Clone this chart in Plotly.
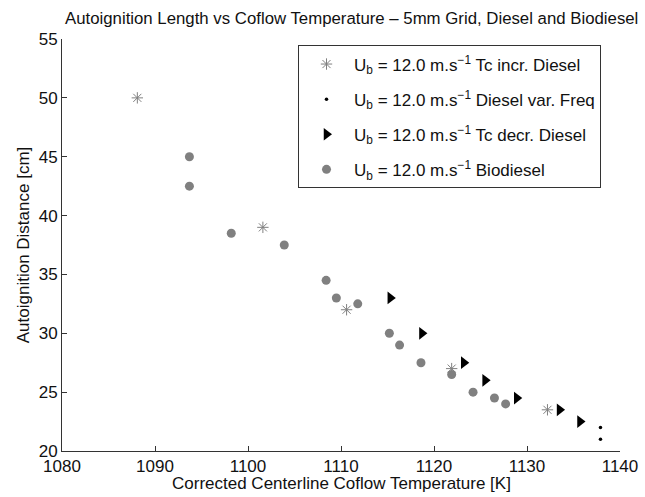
import plotly.graph_objects as go

# Tc increasing, Diesel (asterisks)
incr_T = [1088.1, 1101.6, 1110.6, 1121.9, 1132.2]
incr_L = [50.0, 39.0, 32.0, 27.0, 23.5]

# Diesel variable frequency (dots)
freq_T = [1137.9, 1137.9]
freq_L = [22.0, 21.0]

# Tc decreasing, Diesel (triangles)
decr_T = [1115.3, 1118.7, 1123.2, 1125.5, 1128.9, 1133.5, 1135.7]
decr_L = [33.0, 30.0, 27.5, 26.0, 24.5, 23.5, 22.5]

# Biodiesel (circles)
bio_T = [1093.7, 1093.7, 1098.2, 1103.9, 1108.4, 1109.5, 1111.8, 1115.2,
         1116.3, 1118.6, 1121.9, 1124.2, 1126.5, 1127.7]
bio_L = [45.0, 42.5, 38.5, 37.5, 34.5, 33.0, 32.5, 30.0,
         29.0, 27.5, 26.5, 25.0, 24.5, 24.0]

x_ticks = [1080, 1090, 1100, 1110, 1120, 1130, 1140]
y_ticks = [20, 25, 30, 35, 40, 45, 50, 55]

title_text = "Autoignition Length vs Coflow Temperature \u2013 5mm Grid, Diesel and Biodiesel"
x_title = "Corrected Centerline Coflow Temperature [K]"
y_title = "Autoignition Distance [cm]"
lab = "U<sub>b</sub> = 12.0 m.s<sup>\u22121</sup> "
GRAY = "#808080"
AX = "#333333"
FONT = "Liberation Sans, Arial, Helvetica, sans-serif"

fig = go.Figure()
fig.add_trace(go.Scatter(
    x=incr_T, y=incr_L, mode="markers", name=lab + "Tc incr. Diesel", legendgroup="a",
    marker=dict(symbol="asterisk-open", size=9.5, color=GRAY,
                line=dict(color=GRAY, width=1))))
fig.add_trace(go.Scatter(
    x=freq_T, y=freq_L, mode="markers", name=lab + "Diesel var. Freq", legendgroup="b",
    marker=dict(symbol="circle", size=3.5, color="black")))
fig.add_trace(go.Scatter(
    x=decr_T, y=decr_L, mode="markers", name=lab + "Tc decr. Diesel", legendgroup="c",
    marker=dict(symbol="triangle-right", size=11, color="black")))
fig.add_trace(go.Scatter(
    x=bio_T, y=bio_L, mode="markers", name=lab + "Biodiesel", legendgroup="d",
    marker=dict(symbol="circle", size=9, color=GRAY)))

PL, PR, PT, PB = 62, 25, 38.5, 46
PW, PH = 645 - PL - PR, 497 - PT - PB
fig.update_layout(
    template="none",
    width=645, height=497,
    margin=dict(l=PL, r=PR, t=PT, b=PB, autoexpand=False),
    paper_bgcolor="white", plot_bgcolor="white",
    font=dict(family=FONT, size=17, color="#111"),
    showlegend=True,
    legend=dict(x=(298 - PL) / PW, y=(451 - 45) / PH, xanchor="left", yanchor="top",
                bgcolor="white", bordercolor=AX, borderwidth=1,
                font=dict(size=17, family=FONT, color="#111"),
                itemwidth=45, tracegroupgap=10),
    xaxis=dict(range=[1080, 1140], tickvals=x_ticks, automargin=False,
               showline=True, linecolor=AX, linewidth=1,
               ticks="inside", ticklen=5, tickcolor=AX, ticklabelstandoff=0,
               showgrid=False, zeroline=False, mirror=False,
               tickfont=dict(size=17)),
    yaxis=dict(range=[20, 55], tickvals=y_ticks, automargin=False,
               showline=True, linecolor=AX, linewidth=1,
               ticks="inside", ticklen=5, tickcolor=AX,
               showgrid=False, zeroline=False, mirror=False,
               title=dict(text=y_title, standoff=4, font=dict(size=17)),
               tickfont=dict(size=17)),
)
fig.add_annotation(text=title_text, xref="paper", yref="paper",
                   x=(640 - PL) / PW, xanchor="right",
                   y=1 + (PT - 18) / PH, yanchor="middle",
                   showarrow=False, font=dict(size=16.8, family=FONT, color="#111"))
fig.add_annotation(text=x_title, xref="paper", yref="paper",
                   x=0.5, xanchor="center",
                   y=(451 - 484) / PH, yanchor="middle",
                   showarrow=False, font=dict(size=17, family=FONT, color="#111"))

fig.write_html("out.html", config={"displayModeBar": False},
               post_script="document.body.style.margin='0';")
